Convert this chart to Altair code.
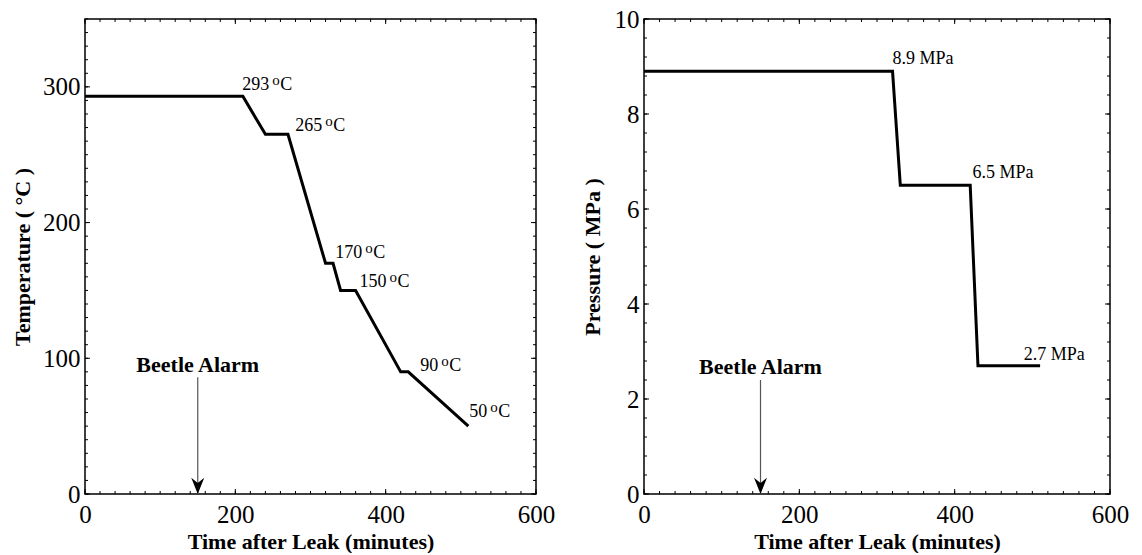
import altair as alt
import pandas as pd

# ---------------- data ----------------
time_T = [0, 210, 240, 270, 320, 330, 340, 360, 420, 430, 510]
temp_C = [293, 293, 265, 265, 170, 170, 150, 150, 90, 90, 50]

time_P = [0, 320, 330, 420, 430, 510]
pres_MPa = [8.9, 8.9, 6.5, 6.5, 2.7, 2.7]

t_label_num = ["293", "265", "170", "150", "90", "50"]
t_label_x = [245, 315.5, 369, 401, 470, 535]
t_label_y = [297.5, 267.5, 174, 152.5, 91, 56.5]

p_label_txt = ["8.9 MPa", "6.5 MPa", "2.7 MPa"]
p_label_x = [320, 423, 489]
p_label_y = [9.06, 6.65, 2.83]

alarm_time = 150
alarm_T = {"top": 86, "text": 90}
alarm_P = {"top": 2.4, "text": 2.53}

x_major = [0, 200, 400, 600]
x_minor = list(range(0, 601, 20))
yT_major = [0, 100, 200, 300]
yT_minor = list(range(0, 351, 10))
yP_major = [0, 2, 4, 6, 8, 10]
yP_minor = [round(i * 0.4, 1) for i in range(0, 26)]

SERIF = "Liberation Serif"
MAJ, MIN = 5, 3


def ticks(vals, length, W, H, axis):
    d = pd.DataFrame({"v": vals})
    base = alt.Chart(d).mark_rule(color="black", strokeWidth=1)
    if axis == "x":
        bot = base.encode(x=alt.X("v:Q"), y=alt.value(H), y2=alt.value(H - length))
        top = base.encode(x=alt.X("v:Q"), y=alt.value(0), y2=alt.value(length))
        return [bot, top]
    lef = base.encode(y=alt.Y("v:Q"), x=alt.value(0), x2=alt.value(length))
    rig = base.encode(y=alt.Y("v:Q"), x=alt.value(W), x2=alt.value(W - length))
    return [lef, rig]


def panel(tx, ty, xdom, ydom, ymaj, ymin, ytitle, W, H, title_x,
          alarm, labels_layer):
    df = pd.DataFrame({"t": tx, "v": ty})
    xs = alt.Scale(domain=xdom, nice=False, zero=False)
    ys = alt.Scale(domain=ydom, nice=False, zero=False)
    xax = alt.Axis(values=x_major, ticks=False, domain=False, grid=False,
                   labelFont=SERIF, labelFontSize=25, labelColor="black",
                   labelPadding=8, labelFlush=False,
                   title="Time after Leak (minutes)", titleFont=SERIF,
                   titleFontSize=22, titleFontWeight="bold", titleColor="black",
                   titleBaseline="alphabetic", titleY=54)
    yax = alt.Axis(values=ymaj, ticks=False, domain=False, grid=False,
                   labelFont=SERIF, labelFontSize=25, labelColor="black",
                   labelPadding=5, labelFlush=False,
                   title=ytitle, titleFont=SERIF, titleFontSize=22,
                   titleFontWeight="bold", titleColor="black",
                   titleAngle=270, titleBaseline="alphabetic",
                   titleX=title_x, titleY=H / 2)
    line = alt.Chart(df).mark_line(color="black", strokeWidth=3,
                                   strokeJoin="miter").encode(
        x=alt.X("t:Q", scale=xs, axis=xax),
        y=alt.Y("v:Q", scale=ys, axis=yax),
    )
    layers = [line]
    layers += ticks(x_minor, MIN, W, H, "x")
    layers += ticks(x_major, MAJ, W, H, "x")
    layers += ticks(ymin, MIN, W, H, "y")
    layers += ticks(ymaj, MAJ, W, H, "y")

    ad = pd.DataFrame({"t": [alarm_time], "top": [alarm["top"]], "bot": [0],
                       "ty": [alarm["text"]], "txt": ["Beetle Alarm"]})
    arrow = alt.Chart(ad).mark_rule(color="#555", strokeWidth=1.2).encode(
        x="t:Q", y="top:Q", y2="bot:Q")
    head = alt.Chart(ad).mark_point(
        shape="M0,0 L-1,-2.5 L0,-1.7 L1,-2.5 Z", filled=True, color="black",
        opacity=1, size=169, strokeWidth=0).encode(x="t:Q", y="bot:Q")
    atext = alt.Chart(ad).mark_text(font=SERIF, fontSize=22, fontWeight="bold",
                                    align="center", baseline="alphabetic",
                                    color="black").encode(
        x="t:Q", y="ty:Q", text="txt:N")
    layers += [arrow, head, atext]
    layers += labels_layer
    return alt.layer(*layers).properties(width=W, height=H)


# temperature labels with superscript o
tl = pd.DataFrame({"x": t_label_x, "y": t_label_y, "num": t_label_num,
                   "o": ["o"] * len(t_label_x), "c": ["C"] * len(t_label_x)})
tnum = alt.Chart(tl).mark_text(font=SERIF, fontSize=18, align="right",
                               baseline="alphabetic", color="black").encode(
    x="x:Q", y="y:Q", text="num:N")
tsup = alt.Chart(tl).mark_text(font=SERIF, fontSize=15, align="left", dx=3,
                               dy=-5, baseline="alphabetic",
                               color="black").encode(
    x="x:Q", y="y:Q", text="o:N")
tc = alt.Chart(tl).mark_text(font=SERIF, fontSize=18, align="left", dx=11,
                             baseline="alphabetic", color="black").encode(
    x="x:Q", y="y:Q", text="c:N")

pl = pd.DataFrame({"x": p_label_x, "y": p_label_y, "txt": p_label_txt})
ptxt = alt.Chart(pl).mark_text(font=SERIF, fontSize=18, align="left",
                               baseline="alphabetic", color="black").encode(
    x="x:Q", y="y:Q", text="txt:N")

left = panel(time_T, temp_C, [0, 600], [0, 350], yT_major, yT_minor,
             "Temperature ( °C )", 451, 475, -56, alarm_T,
             [tnum, tsup, tc])
right = panel(time_P, pres_MPa, [0, 600], [0, 10], yP_major, yP_minor,
              "Pressure ( MPa )", 466, 475, -44.5, alarm_P, [ptxt])

chart = alt.hconcat(left, right, spacing=24).properties(
    padding={"left": 10, "top": 6, "right": 5, "bottom": 0},
    background="white",
).configure_view(stroke="black", strokeWidth=1.5)

chart.save("out.html", embed_options={"renderer": "svg", "actions": False})
